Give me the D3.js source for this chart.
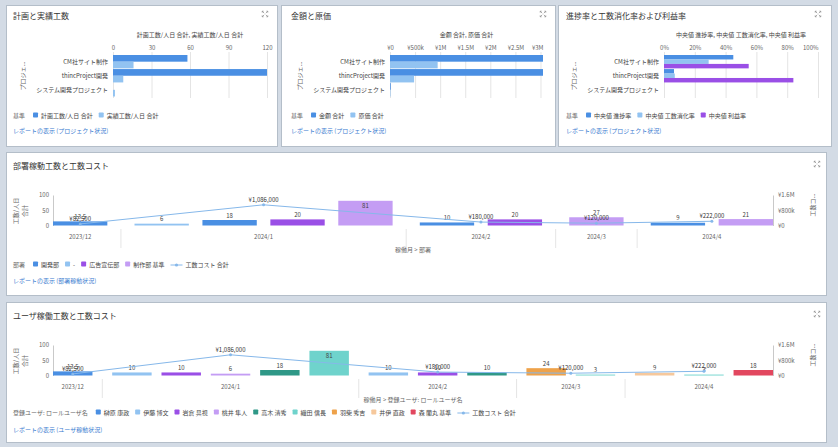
<!DOCTYPE html>
<html><head><meta charset="utf-8">
<script src="https://cdn.jsdelivr.net/npm/d3@7"></script>
<style>
body{margin:0;background:#fff;}
svg{display:block;font-family:"Noto Sans CJK JP","Noto Sans",sans-serif;}
</style></head><body><svg id="c" width="838" height="447"></svg>
<script>
// ---------- data ----------
const projects = ["CM社サイト制作", "thincProject開発", "システム開発プロジェクト"];
const plannedDays = [58, 120, 0];
const actualDays = [16, 8, 1.5];
const amountTotal = [3050000, 3050000, 15000];
const costTotal = [950000, 480000, 10000];
const progressMedian = [0.45, 0.065, 0];
const effortRateMedian = [0.29, 0.07, 0];
const profitRateMedian = [0.55, 0.84, 0];

const tickDays = [0, 30, 60, 90, 120];
const tickYen = [0, 500000, 1000000, 1500000, 2000000, 2500000, 3000000];
const tickYenLabels = ["¥0", "¥500k", "¥1M", "¥1.5M", "¥2M", "¥2.5M", "¥3M"];
const tickPct = [0, 0.2, 0.4, 0.6, 0.8, 1];
const tickPctLabels = ["0%", "20%", "40%", "60%", "80%", "100%"];

const months = ["2023/12", "2024/1", "2024/2", "2024/3", "2024/4"];
const monthlyCost = [82500, 1086000, 180000, 120000, 222000];

const depts = ["開発部", "-", "広告宣伝部", "制作部"];
const deptMonth = ["2023/12", "2024/1", "2024/1", "2024/1", "2024/1", "2024/2", "2024/2", "2024/3", "2024/4", "2024/4"];
const deptName = ["開発部", "-", "開発部", "広告宣伝部", "制作部", "開発部", "広告宣伝部", "制作部", "開発部", "制作部"];
const deptDays = [13.5, 6, 18, 20, 81, 10, 20, 27, 9, 21];

const users = ["榊原 康政", "伊藤 博文", "岩倉 具視", "桃井 隼人", "高木 清秀", "織田 信長", "羽柴 秀吉", "井伊 直政", "森 蘭丸"];
const userMonth = ["2023/12", "2024/1", "2024/1", "2024/1", "2024/1", "2024/1", "2024/2", "2024/2", "2024/2", "2024/3", "2024/3", "2024/4", "2024/4", "2024/4"];
const userName = ["榊原 康政", "伊藤 博文", "岩倉 具視", "桃井 隼人", "高木 清秀", "織田 信長", "伊藤 博文", "岩倉 具視", "高木 清秀", "羽柴 秀吉", "織田 信長", "井伊 直政", "織田 信長", "森 蘭丸"];
const userDays = [13.5, 10, 10, 6, 18, 81, 10, 10, 10, 24, 3, 9, 3, 18];

const leftTicks = [0, 50, 100];
const rightTicks = [0, 800000, 1600000];
const rightTickLabels = ["¥0", "¥800k", "¥1.6M"];

// ---------- style ----------
const C = {
  blue: "#4a8fe3", lightBlue: "#92c3f1", purple: "#9a4fe6", lavender: "#c49df4",
  darkTeal: "#2f9887", lightTeal: "#6fd3cc", orange: "#eea24a", peach: "#f6c89c", red: "#e2475f",
  line: "#86b8ea", text: "#444", sub: "#666", link: "#3a7bd0", grid: "#e4e4e4"
};
const FS = 6;

const svg = d3.select("#c");
svg.append("rect").attr("width", 838).attr("height", 447).attr("fill", "#d3dbe5");
const panels = [[6, 5, 271, 141], [281, 5, 274, 141], [558, 5, 273, 141], [6, 152, 820, 143], [6, 302, 820, 140]];
panels.forEach(p => svg.append("rect").attr("x", p[0] + 0.5).attr("y", p[1] + 0.5)
  .attr("width", p[2]).attr("height", p[3]).attr("fill", "#fff").attr("stroke", "#b4bec9"));

function txt(g, x, y, s, o = {}) {
  return g.append("text").attr("x", x).attr("y", y).text(s)
    .attr("font-size", o.size || FS).attr("fill", o.fill || C.text)
    .attr("text-anchor", o.anchor || "start");
}
function icon(cx, cy) {
  const s = 2.8, k = 1.4;
  const p = [];
  [[-1, -1], [1, -1], [-1, 1], [1, 1]].forEach(([a, b]) => {
    p.push(`M${cx + a * s},${cy + b * (s - k)}L${cx + a * s},${cy + b * s}L${cx + a * (s - k)},${cy + b * s}`);
    p.push(`M${cx + a * s},${cy + b * s}L${cx + a * 0.8},${cy + b * 0.8}`);
  });
  svg.append("path").attr("d", p.join("")).attr("fill", "none").attr("stroke", "#888").attr("stroke-width", 0.7);
}
function legend(x, y, title, items) {
  const g = svg.append("g");
  let cx = x;
  const t = txt(g, cx, y, title, { fill: C.sub });
  cx += t.node().getComputedTextLength() + 8;
  items.forEach(it => {
    if (it.type === "line") {
      g.append("line").attr("x1", cx).attr("x2", cx + 12).attr("y1", y - 2).attr("y2", y - 2)
        .attr("stroke", it.color).attr("stroke-width", 1);
      g.append("circle").attr("cx", cx + 6).attr("cy", y - 2).attr("r", 1.6).attr("fill", it.color);
      cx += 15;
    } else {
      g.append("rect").attr("x", cx).attr("y", y - 5.5).attr("width", 5).attr("height", 5)
        .attr("rx", 0.8).attr("fill", it.color);
      cx += 8;
    }
    const tt = txt(g, cx, y, it.label, { fill: C.text });
    cx += tt.node().getComputedTextLength() + 6;
  });
}
function styleAxis(a) {
  a.attr("font-size", null).attr("font-family", null);
  a.selectAll("text").attr("font-size", FS).attr("fill", C.sub);
}

// ---------- horizontal bar panels ----------
function hbar(o) {
  const g = svg.append("g");
  txt(g, o.titleX, 19, o.title, { size: 8, fill: "#333" });
  icon(o.iconX, 14);
  const x = d3.scaleLinear().domain([0, o.max]).range(o.range).clamp(true);
  const y = d3.scaleBand().domain(projects).range([55, 96.5]).paddingInner(0.05);
  const ys = d3.scaleBand().domain(d3.range(o.series.length)).range([0, y.bandwidth()]);
  txt(g, (o.range[0] + o.range[1]) / 2, 37, o.axisTitle, { anchor: "middle", fill: C.text });
  const ax = g.append("g").attr("transform", "translate(0,52)")
    .call(d3.axisTop(x).tickValues(o.ticks).tickFormat((d, i) => o.labels[i]).tickSize(-46).tickPadding(2));
  styleAxis(ax);
  ax.select(".domain").remove();
  ax.selectAll("line").attr("stroke", C.grid);
  if (o.endAlign) {
    ax.selectAll(".tick").filter((d, i) => i === o.ticks.length - 1).select("text")
      .attr("text-anchor", "end").attr("x", o.range[1] - x(o.ticks[o.ticks.length - 1]));
  }
  o.series.forEach((s, si) => {
    g.selectAll(null).data(projects).enter().append("rect")
      .attr("x", x(0)).attr("y", p => y(p) + ys(si))
      .attr("width", (p, i) => x(s.values[i]) - x(0)).attr("height", ys.bandwidth())
      .attr("fill", s.color);
  });
  projects.forEach(p => txt(g, o.range[0] - 5, y(p) + y.bandwidth() / 2 + 2, p, { anchor: "end" }));
  g.append("text").attr("transform", `translate(${o.range[0] - 88},${76}) rotate(-90)`)
    .attr("text-anchor", "middle").attr("font-size", FS).attr("fill", C.sub).text("プロジェ...");
  legend(o.titleX, 118, "基準", o.series.map(s => ({ label: s.name, color: s.color })));
  txt(g, o.titleX, 133, o.link, { fill: C.link });
}

hbar({
  titleX: 13, iconX: 265, title: "計画と実績工数", axisTitle: "計画工数/人日 合計, 実績工数/人日 合計",
  range: [113, 267], max: 120, ticks: tickDays, labels: tickDays.map(String), endAlign: false,
  series: [{ name: "計画工数/人日 合計", values: plannedDays, color: C.blue },
           { name: "実績工数/人日 合計", values: actualDays, color: C.lightBlue }],
  link: "レポートの表示 (プロジェクト状況)"
});
hbar({
  titleX: 291, iconX: 543, title: "金額と原価", axisTitle: "金額 合計, 原価 合計",
  range: [390, 543], max: 3050000, ticks: tickYen, labels: tickYenLabels, endAlign: true,
  series: [{ name: "金額 合計", values: amountTotal, color: C.blue },
           { name: "原価 合計", values: costTotal, color: C.lightBlue }],
  link: "レポートの表示 (プロジェクト状況)"
});
hbar({
  titleX: 566, iconX: 818, title: "進捗率と工数消化率および利益率",
  axisTitle: "中央値 進捗率, 中央値 工数消化率, 中央値 利益率",
  range: [664, 818], max: 1, ticks: tickPct, labels: tickPctLabels, endAlign: true,
  series: [{ name: "中央値 進捗率", values: progressMedian, color: C.blue },
           { name: "中央値 工数消化率", values: effortRateMedian, color: C.lightBlue },
           { name: "中央値 利益率", values: profitRateMedian, color: C.purple }],
  link: "レポートの表示 (プロジェクト状況)"
});

// ---------- vertical grouped bar + line panels ----------
function vbar(o) {
  const dy = o.dy;
  const g = svg.append("g");
  txt(g, 13, 169 + dy, o.title, { size: 8, fill: "#333" });
  icon(817, 164 + dy);
  const N = o.values.length;
  const gi = o.barMonth.map(m => months.indexOf(m));
  const gap = 0.2, frac = 0.8;
  const u = o.values.map((_, i) => i + gi[i] * gap);
  const x = d3.scaleLinear().domain([0, u[N - 1] + frac]).range([53, 773]);
  const y = d3.scaleLinear().domain([0, 100]).range([225.5 + dy, 195 + dy]);
  const yR = d3.scaleLinear().domain([0, 1600000]).range([225.5 + dy, 195 + dy]);
  const color = d3.scaleOrdinal().domain(o.names).range(o.colors);

  const al = g.append("g").attr("transform", "translate(53,0)")
    .call(d3.axisLeft(y).tickValues(leftTicks).tickSize(0).tickSizeOuter(0).tickPadding(4));
  styleAxis(al); al.select(".domain").attr("stroke", "#c9c9c9");
  const ar = g.append("g").attr("transform", "translate(773,0)")
    .call(d3.axisRight(yR).tickValues(rightTicks).tickFormat((d, i) => rightTickLabels[i]).tickSize(0).tickSizeOuter(0).tickPadding(5));
  styleAxis(ar); ar.select(".domain").attr("stroke", "#c9c9c9");

  // axis titles
  g.append("text").attr("transform", `translate(18,${211 + dy}) rotate(-90)`).attr("text-anchor", "middle")
    .attr("font-size", FS).attr("fill", C.sub).text("工数/人日");
  g.append("text").attr("transform", `translate(27,${211 + dy}) rotate(-90)`).attr("text-anchor", "middle")
    .attr("font-size", FS).attr("fill", C.sub).text("合計");
  g.append("text").attr("transform", `translate(815,${205 + dy}) rotate(-90)`).attr("text-anchor", "middle")
    .attr("font-size", FS).attr("fill", C.sub).text("工数コ...");

  // bars
  g.selectAll(null).data(o.values).enter().append("rect")
    .attr("x", (v, i) => x(u[i])).attr("width", (v, i) => x(u[i] + frac) - x(u[i]))
    .attr("y", v => y(v)).attr("height", v => y(0) - y(v))
    .attr("fill", (v, i) => color(o.barName[i]));
  g.selectAll(null).data(o.values).enter().append("text")
    .attr("x", (v, i) => (x(u[i]) + x(u[i] + frac)) / 2)
    .attr("y", v => (y(v) - 8.5 < y(100)) ? y(v) + 7 : y(v) - 2.5)
    .attr("text-anchor", "middle").attr("font-size", FS).attr("fill", C.text)
    .text(v => String(v));

  // groups
  const groups = months.map((m, k) => {
    const idx = d3.range(N).filter(i => gi[i] === k);
    return { m, x0: x(u[idx[0]]), x1: x(u[idx[idx.length - 1]] + frac) };
  });
  groups.forEach((gr, k) => {
    txt(g, (gr.x0 + gr.x1) / 2, 238.5 + dy, gr.m, { anchor: "middle", fill: C.sub });
    if (k > 0) {
      const sx = (groups[k - 1].x1 + gr.x0) / 2;
      g.append("line").attr("x1", sx).attr("x2", sx).attr("y1", 229 + dy).attr("y2", 248 + dy)
        .attr("stroke", "#dedede").attr("stroke-width", 0.8);
    }
  });
  txt(g, 413, 252 + dy + o.axisDy, o.axisTitle, { anchor: "middle", fill: C.sub });

  // line
  const pts = groups.map((gr, k) => [(gr.x0 + gr.x1) / 2, yR(monthlyCost[k])]);
  g.append("path").attr("d", d3.line()(pts)).attr("fill", "none").attr("stroke", C.line).attr("stroke-width", 1);
  g.selectAll(null).data(pts).enter().append("circle").attr("cx", d => d[0]).attr("cy", d => d[1])
    .attr("r", 1.5).attr("fill", C.line);
  const fmt = d3.format(",");
  g.selectAll(null).data(pts).enter().append("text")
    .attr("x", d => d[0]).attr("y", d => d[1] - 3).attr("text-anchor", "middle")
    .attr("font-size", FS).attr("fill", "#333").text((d, k) => "¥" + fmt(monthlyCost[k]));

  legend(13, o.legendY, o.legendTitle,
    o.names.map((n, i) => ({ label: i === o.names.length - 1 ? n + " 基準" : n, color: o.colors[i] }))
      .concat([{ label: "工数コスト 合計", color: C.line, type: "line" }]));
  txt(g, 13, o.linkY, o.link, { fill: C.link });
}

vbar({
  dy: 0, title: "部署稼動工数と工数コスト", values: deptDays, barMonth: deptMonth, barName: deptName,
  names: depts, colors: [C.blue, C.lightBlue, C.purple, C.lavender],
  axisTitle: "稼働月 > 部署", axisDy: 0, legendTitle: "部署", legendY: 267, linkY: 283,
  link: "レポートの表示 (部署稼動状況)"
});
vbar({
  dy: 150, title: "ユーザ稼働工数と工数コスト", values: userDays, barMonth: userMonth, barName: userName,
  names: users, colors: [C.blue, C.lightBlue, C.purple, C.lavender, C.darkTeal, C.lightTeal, C.orange, C.peach, C.red],
  axisTitle: "稼働月 > 登録ユーザ: ロールユーザ名", axisDy: 0, legendTitle: "登録ユーザ: ロールユーザ名",
  legendY: 415, linkY: 432, link: "レポートの表示 (ユーザ稼動状況)"
});
</script></body></html>
